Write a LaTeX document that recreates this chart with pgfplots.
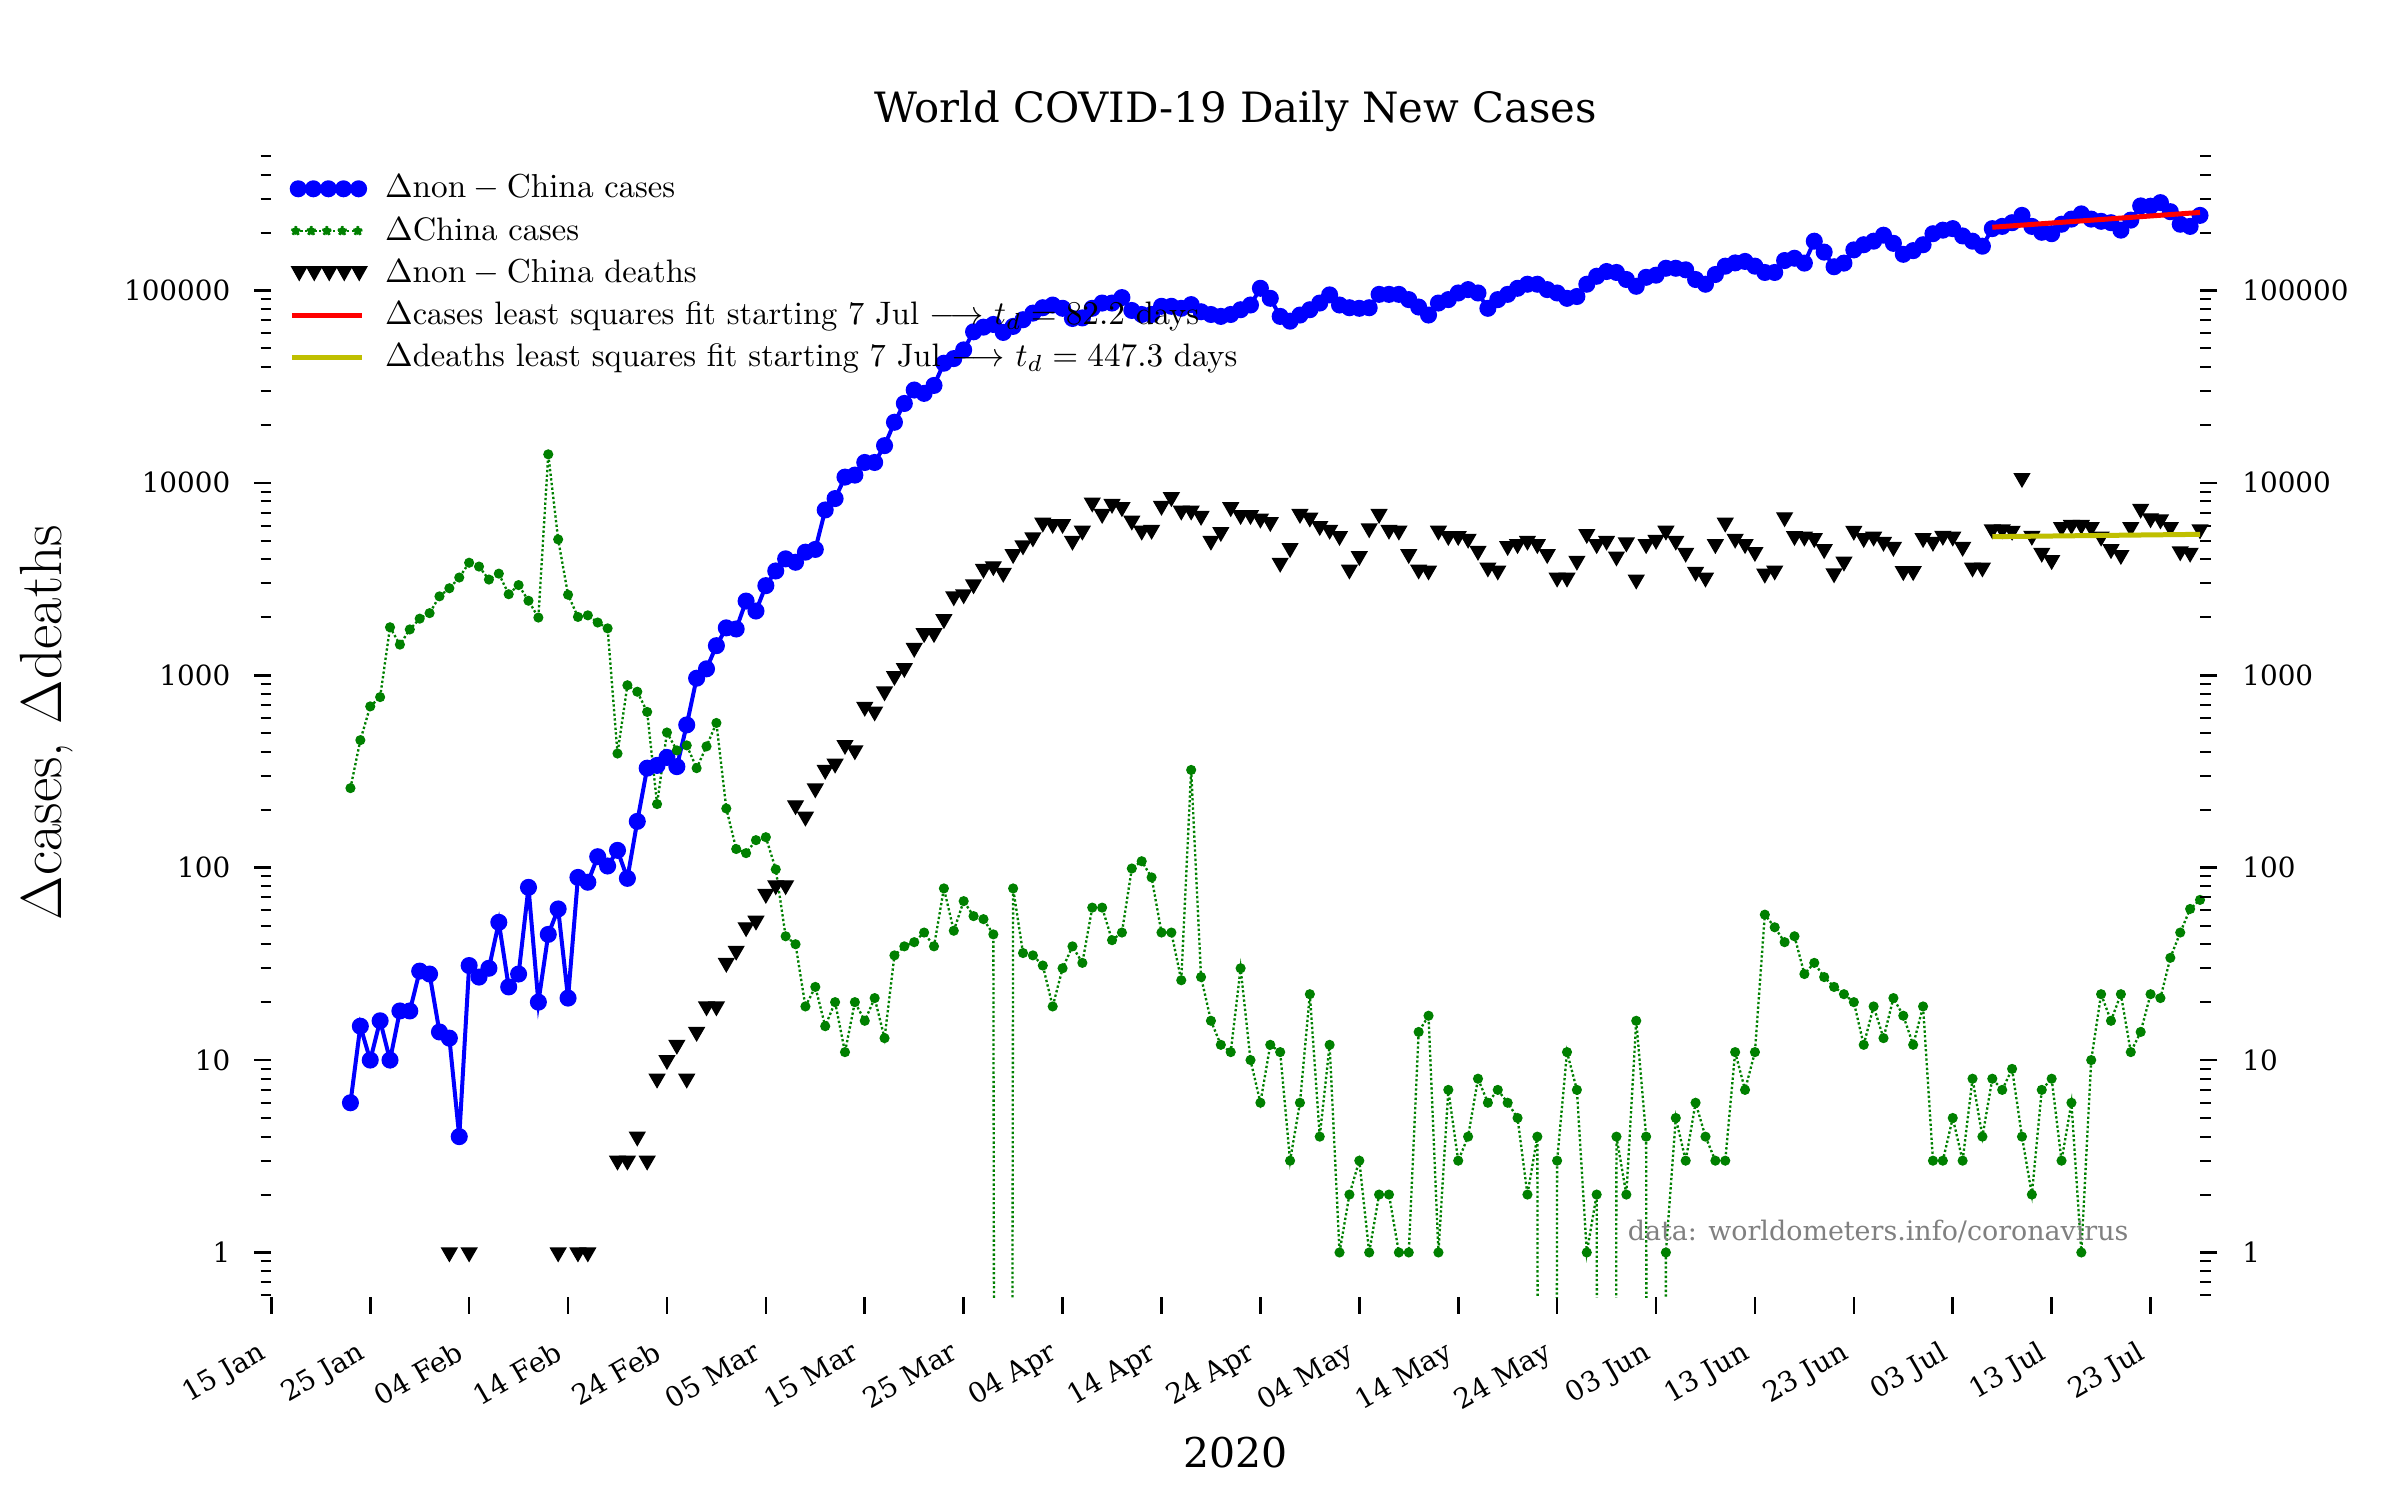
\documentclass[border=0pt]{standalone}
\usepackage[no-math]{fontspec}
\setmainfont{DejaVu Serif}
\newfontfamily\lmr{Latin Modern Roman}
\usepackage{pgfplots}
\usepackage{pgfplotstable}
\pgfplotsset{compat=1.18}

\definecolor{mplblue}{rgb}{0,0,1}
\definecolor{mplgreen}{rgb}{0,0.5,0}
\definecolor{mplolive}{rgb}{0.75,0.75,0}
\definecolor{mplgray}{rgb}{0.5,0.5,0.5}

\pgfplotstableread{
d v
8 6
9 15
10 10
11 16
12 10
13 18
14 18
15 29
16 28
17 14
18 13
19 4
20 31
21 27
22 30
23 52
24 24
25 28
26 79
27 20
28 45
29 61
30 21
31 89
32 84
33 114
34 102
35 123
36 88
37 174
38 329
39 340
40 374
41 335
42 552
43 965
44 1080
45 1425
46 1763
47 1740
48 2430
49 2157
50 2922
51 3484
52 4027
53 3866
54 4362
55 4508
56 7230
57 8285
58 10710
59 10970
60 12760
61 12760
62 15610
63 20650
64 25860
65 30370
66 29170
67 32080
68 41850
69 44240
70 49090
71 60950
72 64450
73 66570
74 60510
75 65020
76 70440
77 76240
78 81310
79 83960
80 80750
81 71500
82 72000
83 80750
84 86000
85 86000
86 91800
87 78700
88 75000
89 75000
90 82700
91 82700
92 80750
93 84400
94 77500
95 75000
96 73300
97 75000
98 79400
99 84000
100 102600
101 91000
102 73300
103 69200
104 74500
105 79400
106 86000
107 94800
108 84000
109 81300
110 80750
111 81300
112 95400
113 95400
114 95400
115 89600
116 82000
117 74500
118 86000
119 89600
120 97000
121 101000
122 97000
123 80750
124 89600
125 95400
126 102600
127 107700
128 107700
129 101000
130 97000
131 91000
132 93000
133 107700
134 118500
135 125400
136 124000
137 114000
138 105100
139 117000
140 120000
141 130400
142 130400
143 128000
144 114000
145 107700
146 121000
147 133700
148 139000
149 141500
150 133700
151 124000
152 124000
153 143000
154 147000
155 138700
156 180300
157 158200
158 132800
159 138700
160 162400
161 172800
162 180300
163 193700
164 175700
165 154100
166 161000
167 172800
168 197200
169 205700
170 209500
171 192000
172 180300
173 169800
174 209500
175 215200
176 224900
177 245500
178 215200
179 200500
180 197200
181 220800
182 234800
183 249900
184 234800
185 228700
186 224900
187 205700
188 232000
189 275000
190 274000
191 286000
192 256600
193 220800
194 215200
195 245500
}\nonchinacases

\pgfplotstableread{
d v
8 259
9 460
10 689
11 770
12 1776
13 1443
14 1730
15 1969
16 2103
17 2571
18 2833
19 3221
20 3845
21 3672
22 3144
23 3374
24 2637
25 2942
26 2439
27 1995
28 14065
29 5081
30 2620
31 2010
32 2048
33 1880
34 1753
35 392
36 887
37 821
38 645
39 214
40 504
41 407
42 432
43 329
44 427
45 565
46 203
47 125
48 119
49 139
50 144
51 98
52 44
53 40
54 19
55 24
56 15
57 20
58 11
59 20
60 16
61 21
62 13
63 35
64 39
65 41
66 46
67 39
68 78
69 47
70 67
71 56
72 54
73 45
74 1e-30
75 78
76 36
77 35
78 31
79 19
80 30
81 39
82 32
83 62
84 62
85 42
86 46
87 99
88 108
89 89
90 46
91 46
92 26
93 322
94 27
95 16
96 12
97 11
98 30
99 10
100 6
101 12
102 11
103 3
104 6
105 22
106 4
107 12
108 1
109 2
110 3
111 1
112 2
113 2
114 1
115 1
116 14
117 17
118 1
119 7
120 3
121 4
122 8
123 6
124 7
125 6
126 5
127 2
128 4
129 1e-30
130 3
131 11
132 7
133 1
134 2
135 1e-30
136 4
137 2
138 16
139 4
140 1e-30
141 1
142 5
143 3
144 6
145 4
146 3
147 3
148 11
149 7
150 11
151 57
152 49
153 41
154 44
155 28
156 32
157 27
158 24
159 22
160 20
161 12
162 19
163 13
164 21
165 17
166 12
167 19
168 3
169 3
170 5
171 3
172 8
173 4
174 8
175 7
176 9
177 4
178 2
179 7
180 8
181 3
182 6
183 1
184 10
185 22
186 16
187 22
188 11
189 14
190 22
191 21
192 34
193 46
194 61
195 68
}\chinacases

\pgfplotstableread{
d v
18 1
20 1
29 1
31 1
32 1
35 3
36 3
37 4
38 3
39 8
40 10
41 12
42 8
43 14
44 19
45 19
46 32
47 37
48 49
49 53
50 73
51 81
52 81
53 211
54 184
55 258
56 322
57 347
58 434
59 407
60 685
61 648
62 824
63 991
64 1090
65 1387
66 1655
67 1655
68 1958
69 2570
70 2633
71 2967
72 3573
73 3686
74 3403
75 4261
76 4729
77 5203
78 6210
79 6110
80 6110
81 5000
82 5640
83 7900
84 6890
85 7770
86 7470
87 6360
88 5640
89 5700
90 7590
91 8420
92 7170
93 7170
94 6730
95 5000
96 5550
97 7470
98 6800
99 6800
100 6510
101 6250
102 3840
103 4580
104 6890
105 6600
106 5960
107 5700
108 5290
109 3540
110 4160
111 5800
112 6890
113 5700
114 5640
115 4260
116 3540
117 3500
118 5640
119 5290
120 5290
121 5120
122 4430
123 3630
124 3500
125 4690
126 4800
127 5000
128 4800
129 4260
130 3215
131 3215
132 3935
133 5420
134 4800
135 5000
136 4140
137 4900
138 3140
139 4800
140 5050
141 5640
142 5000
143 4330
144 3450
145 3215
146 4800
147 6210
148 5120
149 4800
150 4370
151 3370
152 3500
153 6620
154 5290
155 5250
156 5160
157 4520
158 3385
159 3895
160 5630
161 5160
162 5250
163 4935
164 4645
165 3475
166 3475
167 5160
168 4935
169 5300
170 5250
171 4645
172 3630
173 3630
174 5730
175 5730
176 5630
177 10590
178 5300
179 4330
180 3965
181 5890
182 6040
183 6040
184 5890
185 5250
186 4520
187 4215
188 5890
189 7330
190 6540
191 6450
192 5890
193 4405
194 4330
195 5730
}\nonchinadeaths

\pgfplotstableread{
d v
174 213000
195 254300
}\casesfit

\pgfplotstableread{
d v
174 5250
195 5400
}\deathsfit

\newcommand{\lstrut}{\rule[-2.3bp]{0pt}{9.3bp}}

\begin{document}
\begin{tikzpicture}
\path[use as bounding box] (-81.4bp,-60.9bp) rectangle (638.6bp,389.1bp);
\begin{axis}[
  ymode=log,
  scale only axis, width=578.6bp, height=344.7bp,
  xmin=0, xmax=195, ymin=0.587, ymax=5.5e5,
  axis line style={draw=none},
  tick align=outside,
  major tick length=5.1bp, minor tick length=3.2bp,
  every major tick/.append style={black, line width=0.8bp},
  every minor tick/.append style={black, line width=0.6bp},
  ytick={1,10,100,1000,10000,100000},
  yticklabels={1,10,100,1000,10000,100000},
  minor ytick={0.6,0.7,0.8,0.9,2,3,4,5,6,7,8,9,20,30,40,50,60,70,80,90,200,300,400,500,600,700,800,900,2000,3000,4000,5000,6000,7000,8000,9000,20000,30000,40000,50000,60000,70000,80000,90000,200000,300000,400000,500000},
  tick label style={font=\fontsize{8.35bp}{10bp}\selectfont},
  ytick pos=both, yticklabel pos=left,
  xtick pos=left,
  xtick={0,10,...,190},
  xticklabels={15 Jan,25 Jan,04 Feb,14 Feb,24 Feb,05 Mar,15 Mar,25 Mar,04 Apr,14 Apr,24 Apr,04 May,14 May,24 May,03 Jun,13 Jun,23 Jun,03 Jul,13 Jul,23 Jul},
  xticklabel style={xshift=-4.3bp, yshift=-7.5bp, rotate=30, anchor=north east, inner sep=0pt},
  yticklabel style={anchor=east, inner sep=0pt, xshift=-7bp},
  title={World COVID-19 Daily New Cases},
  title style={at={(axis description cs:0.5,1.0218)}, anchor=base, yshift=-6pt, inner sep=0pt, font=\fontsize{12.53bp}{15bp}\selectfont},
  xlabel={2020},
  xlabel style={at={(axis description cs:0.5,-0.148)}, anchor=base, inner sep=0pt, font=\fontsize{12.3bp}{15bp}\selectfont},
  ylabel={\lmr $\Delta$cases, $\Delta$deaths},
  ylabel style={at={(axis description cs:-0.1163,0.5)}, anchor=center, inner sep=0pt, font=\fontsize{17.9bp}{21bp}\selectfont},
  legend style={at={(axis description cs:0.0093,0.9768)}, anchor=north west, draw=none, fill=none, inner sep=0pt, outer sep=0pt, row sep=4.15bp, column sep=5.3bp, font=\lmr\fontsize{9.75bp}{11bp}\selectfont, nodes={inner sep=0pt}},
  legend cell align=left,
]
\addplot[mplblue, line width=1.2bp, mark=*, mark size=1.95bp, mark options={solid, fill=mplblue, draw=mplblue},
  legend image code/.code={
    \draw[mplblue, line width=1.2bp] (1.95bp,0bp) -- (20.05bp,0bp);
    \foreach \i in {0,1,2,3,4}{\fill[mplblue] (1.95bp+\i*4.525bp,0bp) circle (1.95bp);}
  }] table[x=d, y=v] {\nonchinacases};
\addlegendentry{\lstrut$\Delta\mathrm{non}-\mathrm{China}$ cases}
\addplot[mplgreen, line width=0.7bp, dash pattern=on 0.7bp off 0.7bp, mark=*, mark size=1.15bp, mark options={solid, fill=mplgreen, draw=none},
  legend image code/.code={
    \draw[mplgreen, line width=0.7bp, dash pattern=on 0.7bp off 0.7bp] (1.2bp,0bp) -- (19.8bp,0bp);
    \foreach \i in {0,1,2,3,4}{\fill[mplgreen] (1.2bp+\i*4.65bp,0bp) circle (1.15bp);}
  }] table[x=d, y=v] {\chinacases};
\addlegendentry{\lstrut$\Delta$China cases}
\addplot[only marks, mark=triangle*, mark size=2.6bp, mark options={rotate=180, fill=black, draw=none},
  legend image code/.code={
    \foreach \i in {0,1,2,3,4}{\fill[black] (\i*4.5bp,1.9bp) -- (\i*4.5bp+4.5bp,1.9bp) -- (\i*4.5bp+2.25bp,-2.1bp) -- cycle;}
  }] table[x=d, y=v] {\nonchinadeaths};
\addlegendentry{\lstrut$\Delta\mathrm{non}-\mathrm{China}$ deaths}
\addlegendimage{legend image code/.code={\draw[red, line width=1.5bp] (0bp,0bp) -- (21bp,0bp);}}
\addlegendentry{\lstrut$\Delta$cases least squares fit starting 7 Jul $\longrightarrow$ $t_d=82.2$ days}
\addlegendimage{legend image code/.code={\draw[mplolive, line width=1.5bp] (0bp,0bp) -- (21bp,0bp);}}
\addlegendentry{\lstrut$\Delta$deaths least squares fit starting 7 Jul $\longrightarrow$ $t_d=447.3$ days}
\node[anchor=base west, inner sep=0pt, text=mplgray, font=\fontsize{8.07bp}{10bp}\selectfont] at (axis description cs:0.703,0.049) {data: worldometers.info/coronavirus};
\end{axis}
\begin{axis}[
  ymode=log,
  scale only axis, width=578.6bp, height=344.7bp,
  xmin=0, xmax=195, ymin=0.587, ymax=5.5e5,
  axis line style={draw=none},
  tick align=outside,
  major tick length=5.1bp, minor tick length=3.2bp,
  every major tick/.append style={black, line width=0.8bp},
  every minor tick/.append style={black, line width=0.6bp},
  ytick={1,10,100,1000,10000,100000},
  yticklabels={1,10,100,1000,10000,100000},
  minor ytick={0.6,0.7,0.8,0.9,2,3,4,5,6,7,8,9,20,30,40,50,60,70,80,90,200,300,400,500,600,700,800,900,2000,3000,4000,5000,6000,7000,8000,9000,20000,30000,40000,50000,60000,70000,80000,90000,200000,300000,400000,500000},
  tick label style={font=\fontsize{8.35bp}{10bp}\selectfont},
  ytick pos=right, yticklabel pos=right,
  xtick=\empty,
  yticklabel style={anchor=west, inner sep=0pt, xshift=7.4bp},
]
\addplot[red, line width=1.5bp, no marks, forget plot] table[x=d, y=v] {\casesfit};
\addplot[mplolive, line width=1.5bp, no marks, forget plot] table[x=d, y=v] {\deathsfit};
\end{axis}
\end{tikzpicture}
\end{document}
